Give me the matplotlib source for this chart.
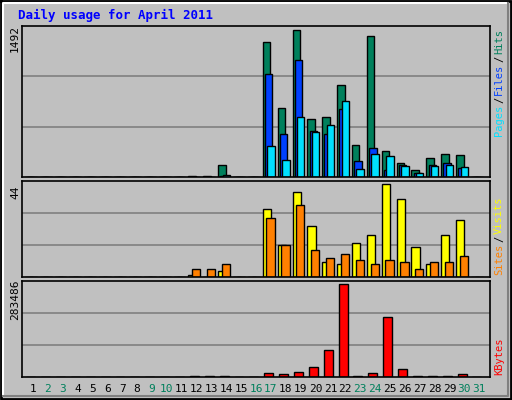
import matplotlib
matplotlib.use("Agg")
import matplotlib.pyplot as plt
import numpy as np

days = np.arange(1, 32)
hits = np.zeros(31)
files = np.zeros(31)
pages = np.zeros(31)
visits = np.zeros(31)
sites = np.zeros(31)
kbytes = np.zeros(31)

# values (days 12..30)
d = np.arange(12, 31)
hits[d - 1] = [8, 8, 122, 0, 0, 1370, 700, 1492, 589, 609, 934, 325, 1431, 264, 142, 71, 193, 233, 223]
files[d - 1] = [0, 0, 10, 0, 0, 1045, 436, 1187, 467, 436, 690, 162, 294, 70, 122, 40, 122, 142, 91]
pages[d - 1] = [0, 0, 20, 0, 0, 315, 173, 609, 457, 528, 771, 81, 233, 213, 112, 41, 112, 122, 102]
visits[d - 1] = [1, 0, 3, 0, 0, 32, 15, 40, 24, 7, 6, 16, 20, 44, 37, 14, 6, 20, 27]
sites[d - 1] = [4, 4, 6, 0, 0, 28, 15, 34, 13, 9, 11, 8, 6, 8, 7, 4, 7, 7, 10]
kbytes[d - 1] = [1600, 1600, 1600, 0, 0, 11000, 8000, 16500, 30000, 82500, 283486, 1600, 11000, 184500, 23700, 1600, 1600, 1600, 8000]
weekend = [2, 3, 9, 10, 16, 17, 23, 24, 30, 31]

BG = "#C0C0C0"
W, H = 512, 400
fig = plt.figure(figsize=(W / 100, H / 100), dpi=100, facecolor=BG)

def ax_px(x0, y0, x1, y1):
    return fig.add_axes([x0 / W, 1 - y1 / H, (x1 - x0) / W, (y1 - y0) / H])

xlim = (0.26, 31.73)
bw = 0.5
kw = dict(edgecolor="black", linewidth=1.0, align="edge")

def setup(ax, top, frac):
    ax.set_facecolor(BG)
    ax.set_xlim(*xlim)
    ax.set_ylim(0, top * frac)
    for f in (1 / 3, 2 / 3):
        ax.axhline(top * frac * f, color="#808080", lw=1.2, zorder=0)
    ax.set_xticks([])
    ax.set_yticks([])
    for s in ax.spines.values():
        s.set_linewidth(1.2)

# top panel
ax1 = ax_px(22, 26, 490, 177)
setup(ax1, 1492, 151 / 147.5)
ax1.bar(days - 0.55, hits, bw, color="#00805C", **kw)
ax1.bar(days - 0.4, files, bw, color="#0040FF", **kw)
ax1.bar(days - 0.25, pages, bw, color="#00E0FF", **kw)

# middle panel
ax2 = ax_px(22, 181, 490, 277)
setup(ax2, 44, 95 / 92)
ax2.bar(days - 0.55, visits, 0.55, color="#FFFF00", **kw)
ax2.bar(days - 0.3, sites, 0.55, color="#FF8000", **kw)

# bottom panel
ax3 = ax_px(22, 281, 490, 377)
setup(ax3, 283486, 95 / 91.7)
ax3.bar(days - 0.45, kbytes, 0.6, color="#FF0000", **kw)

mono = "DejaVu Sans Mono"
fig.text(18 / W, 1 - 15 / H, "Daily usage for April 2011", color="#0000FF",
         fontweight="bold", family=mono, fontsize=9, va="center")
fig.text(15 / W, 1 - 38 / H, "1492", rotation=90, family=mono, fontsize=8, ha="center", va="center")
fig.text(15 / W, 1 - 192 / H, "44", rotation=90, family=mono, fontsize=8, ha="center", va="center")
fig.text(15 / W, 1 - 300 / H, "283486", rotation=90, family=mono, fontsize=8, ha="center", va="center")

def right_labels(y_bottom, parts):
    y = y_bottom
    for txt, col in parts:
        fig.text(499 / W, 1 - y / H, txt, rotation=90, color=col, family=mono,
                 fontsize=7.5, ha="center", va="bottom")
        y -= len(txt) * 6.3 + 1.5

right_labels(136, [("Pages", "#00E0FF"), ("/", "black"), ("Files", "#0040FF"), ("/", "black"), ("Hits", "#00805C")])
right_labels(275, [("Sites", "#FF8000"), ("/", "black"), ("Visits", "#FFFF00")])
right_labels(375, [("KBytes", "#FF0000")])

for dd in days:
    x = 22 + (dd - xlim[0]) / (xlim[1] - xlim[0]) * 468
    fig.text(x / W, 1 - 389 / H, str(dd), color="#00805C" if dd in weekend else "black",
             family=mono, fontsize=8, ha="center", va="center")

# bevel border
border = fig.add_axes([0, 0, 1, 1], facecolor="none")
border.set_xlim(0, W); border.set_ylim(H, 0); border.axis("off")
border.plot([1, W - 1, W - 1, 1, 1], [1, 1, H - 1, H - 1, 1], color="black", lw=2)
border.plot([3, 3, W - 4], [H - 4, 3, 3], color="white", lw=1.5)
border.plot([W - 4, W - 4, 3], [3, H - 4, H - 4], color="#808080", lw=1.5)

fig.savefig("out.png", dpi=100, facecolor=BG)
